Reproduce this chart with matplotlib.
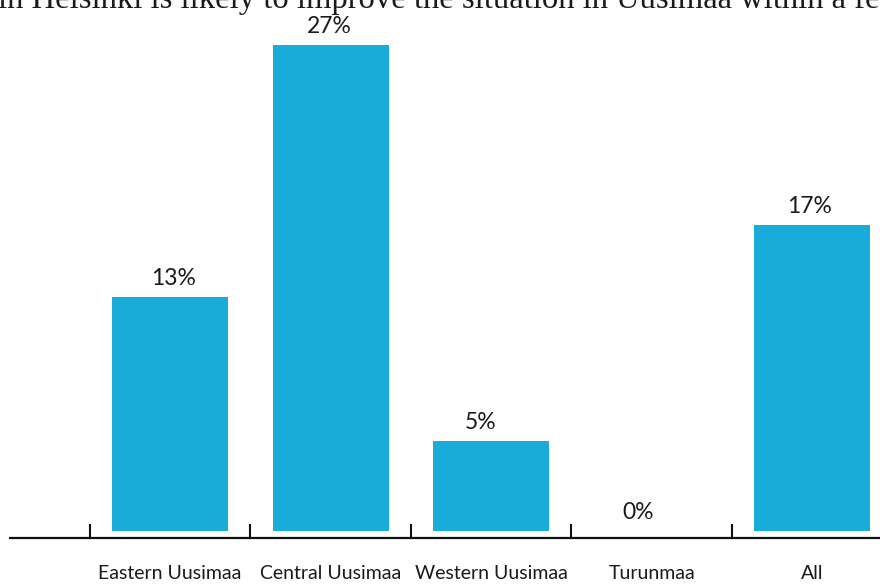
import matplotlib
matplotlib.use("Agg")
import matplotlib.pyplot as plt

categories = ["Eastern Uusimaa", "Central Uusimaa", "Western Uusimaa", "Turunmaa", "All"]
values = [13, 27, 5, 0, 17]
value_labels = ["13%", "27%", "5%", "0%", "17%"]
title_text = "in Helsinki is likely to improve the situation in Uusimaa within a few"

# horizontal nudges of the value labels (pixels), as placed in the reference
label_dx_px = [4, -1.5, -10.5, -14, -3]

BAR_COLOR = "#19ACD8"
SANS = ["Lato", "DejaVu Sans"]

fig = plt.figure(figsize=(8.8, 5.84), dpi=100)
ax = fig.add_axes([0, 0, 1, 1])
ax.set_xlim(-1.0585, 4.421)
ax.set_ylim(-2.944, 29.5)
ax.axis("off")

x = list(range(len(categories)))
ax.bar(x, values, width=0.722, color=BAR_COLOR, zorder=2)

axis_y = -0.39
ax.plot([-1.0, 4.6], [axis_y, axis_y], color="#111111", lw=1.6, solid_capstyle="butt", zorder=3)
for b in [i - 0.5 for i in x]:
    ax.plot([b, b], [axis_y, axis_y + 0.75], color="#111111", lw=1.5, zorder=3)

for xi, v, lab, dx in zip(x, values, value_labels, label_dx_px):
    ax.annotate(lab, (xi, v), xytext=(dx * 0.72, 13.5), textcoords="offset points",
                ha="center", va="center", fontsize=16.5, family=SANS, color="#1a1a1a")

for xi, c in zip(x, categories):
    ax.text(xi, -2.36, c, ha="center", va="center", fontsize=14, family=SANS, color="#1a1a1a")

fig.text(0.512, 1 - 8 / 584, title_text, ha="center", va="baseline",
         fontsize=23.5, family=["Liberation Serif", "DejaVu Serif"], color="#1a1a1a")

fig.savefig("out.png", dpi=100)
